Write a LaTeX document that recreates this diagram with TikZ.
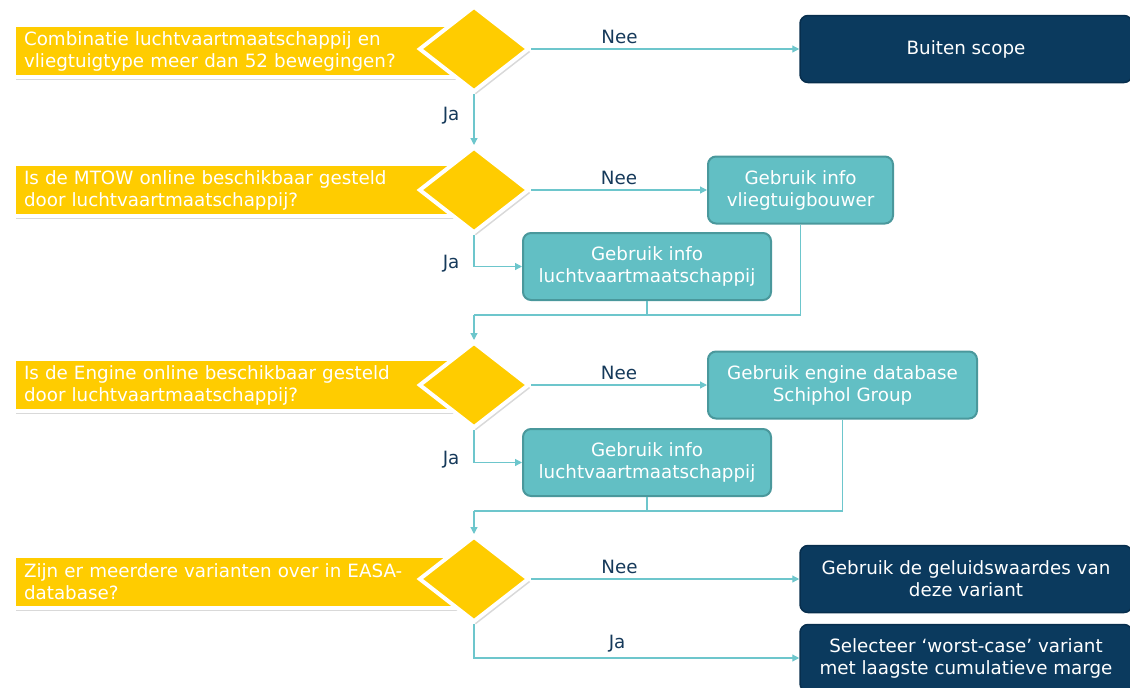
\documentclass[tikz,border=0pt]{standalone}
\usepackage{fontspec}
\setmainfont{DejaVu Sans}
\usetikzlibrary{shapes.geometric,arrows.meta,shadows}
\definecolor{qyellow}{HTML}{FFCC00}
\definecolor{tealfill}{HTML}{62BFC4}
\definecolor{tealline}{HTML}{4A989C}
\definecolor{navyfill}{HTML}{0B3A5E}
\definecolor{navyline}{HTML}{072E4D}
\definecolor{flowline}{HTML}{6DC6CC}
\definecolor{labelcol}{HTML}{15395A}
\begin{document}
\begin{tikzpicture}[x=1pt,y=-1pt,
   every node/.style={font=\fontsize{18.3}{22}\selectfont},
   qbox/.style={anchor=west,fill=qyellow,draw=white,line width=4pt,text=white,
      text width=430pt,align=left,inner xsep=10pt,minimum height=52pt,
      drop shadow={opacity=0.3,shadow xshift=2pt,shadow yshift=-3pt}},
   qdiamond/.style={diamond,fill=qyellow,draw=white,line width=4pt,
      minimum width=110pt,minimum height=86pt,inner sep=0pt,
      drop shadow={opacity=0.3,shadow xshift=2pt,shadow yshift=-3pt}},
   tealbox/.style={rectangle,rounded corners=8pt,fill=tealfill,draw=tealline,
      line width=2pt,text=white,align=center,minimum height=67pt},
   navybox/.style={rectangle,rounded corners=8pt,fill=navyfill,draw=navyline,
      line width=1.5pt,text=white,align=center,minimum height=67pt,minimum width=332pt},
   conn/.style={draw=flowline,line width=1.2pt},
   arr/.style={conn,-{Triangle[length=7pt,width=7pt]}},
   lbl/.style={text=labelcol,inner sep=2pt}]
  \useasboundingbox (0,0) rectangle (1130,688);
  \clip (0,0) rectangle (1130,688);
  % vragen
  \node[qbox] (q1) at (12,51) {Combinatie luchtvaartmaatschappij en\\vliegtuigtype meer dan 52 bewegingen?};
  \node[qdiamond] (d1) at (474,49) {};
  \node[qbox] (q2) at (12,190) {Is de MTOW online beschikbaar gesteld\\door luchtvaartmaatschappij?};
  \node[qdiamond] (d2) at (474,190) {};
  \node[qbox] (q3) at (12,385) {Is de Engine online beschikbaar gesteld\\door luchtvaartmaatschappij?};
  \node[qdiamond] (d3) at (474,385) {};
  \node[qbox] (q4) at (12,582) {Zijn er meerdere varianten over in EASA-\\database?};
  \node[qdiamond] (d4) at (474,579) {};
  % uitkomsten
  \node[navybox] (scope) at (966,49) {Buiten scope};
  \node[tealbox,minimum width=185pt] (bouwer) at (800.5,190) {Gebruik info\\vliegtuigbouwer};
  \node[tealbox,minimum width=248pt] (lvm1) at (647,266.5) {Gebruik info\\luchtvaartmaatschappij};
  \node[tealbox,minimum width=269pt] (engine) at (842.5,385) {Gebruik engine database\\Schiphol Group};
  \node[tealbox,minimum width=248pt] (lvm2) at (647,462.5) {Gebruik info\\luchtvaartmaatschappij};
  \node[navybox] (geluid) at (966,579) {Gebruik de geluidswaardes van\\deze variant};
  \node[navybox] (worst) at (966,658) {Selecteer `worst-case' variant\\met laagste cumulatieve marge};
  \coordinate (m1) at (474,315);
  \coordinate (m2) at (474,511);
  % verbindingen
  \draw[arr] (d1.east) -- node[lbl,above=3pt,pos=0.33] {Nee} (scope.west);
  \draw[arr] (d1.south) -- node[lbl,left=12pt,pos=0.42] {Ja} (d2.north);
  \draw[arr] (d2.east) -- node[lbl,above=3pt,pos=0.5] {Nee} (bouwer.west);
  \draw[arr] (d2.south) |- node[lbl,left=12pt,pos=0.45] {Ja} (lvm1.west);
  \draw[conn] (lvm1.south) |- (m1);
  \draw[conn] (bouwer.south) |- (m1);
  \draw[arr] (m1) -- (d3.north);
  \draw[arr] (d3.east) -- node[lbl,above=3pt,pos=0.5] {Nee} (engine.west);
  \draw[arr] (d3.south) |- node[lbl,left=12pt,pos=0.45] {Ja} (lvm2.west);
  \draw[conn] (lvm2.south) |- (m2);
  \draw[conn] (engine.south) |- (m2);
  \draw[arr] (m2) -- (d4.north);
  \draw[arr] (d4.east) -- node[lbl,above=3pt,pos=0.33] {Nee} (geluid.west);
  \draw[arr] (d4.south) |- node[lbl,above=3pt,pos=0.72] {Ja} (worst.west);
\end{tikzpicture}
\end{document}
